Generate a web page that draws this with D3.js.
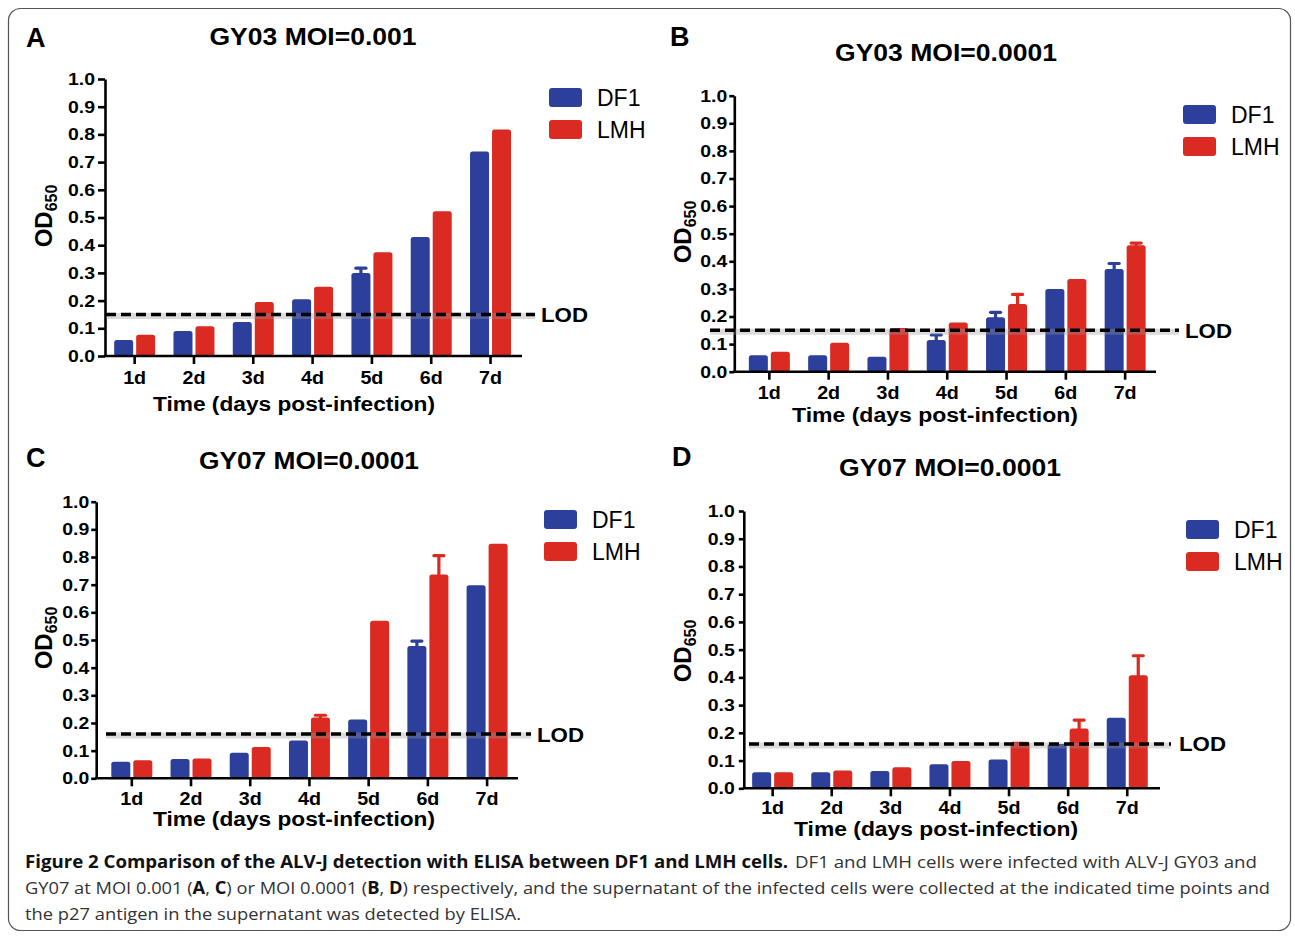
<!DOCTYPE html>
<html>
<head>
<meta charset="utf-8">
<script src="https://cdnjs.cloudflare.com/ajax/libs/d3/7.8.5/d3.min.js"></script>
<style>
  body { margin: 0; background: #fff; }
  svg text { font-family: "Liberation Sans", Arial, sans-serif; }
  svg text.cap { font-family: "Open Sans", "Noto Sans", sans-serif; }
</style>
</head>
<body>
<div id="my_datavis"></div>
<script>
var days = ["1d", "2d", "3d", "4d", "5d", "6d", "7d"];
var series = ["DF1", "LMH"];
var yTicks = [0, 0.1, 0.2, 0.3, 0.4, 0.5, 0.6, 0.7, 0.8, 0.9, 1.0];

var dfA = [0.058, 0.090, 0.123, 0.205, 0.300, 0.430, 0.738];
var dfErrA = [0, 0, 0, 0, 0.017, 0, 0];
var lmhA = [0.077, 0.107, 0.195, 0.250, 0.375, 0.523, 0.818];
var lmhErrA = [0, 0, 0, 0, 0, 0, 0];

var dfB = [0.060, 0.060, 0.054, 0.115, 0.197, 0.300, 0.372];
var dfErrB = [0, 0, 0, 0.018, 0.018, 0, 0.020];
var lmhB = [0.072, 0.105, 0.158, 0.178, 0.245, 0.336, 0.458];
var lmhErrB = [0, 0, 0, 0, 0.035, 0, 0.008];

var dfC = [0.060, 0.070, 0.092, 0.137, 0.213, 0.478, 0.698];
var dfErrC = [0, 0, 0, 0, 0, 0.018, 0];
var lmhC = [0.065, 0.072, 0.113, 0.220, 0.570, 0.737, 0.848];
var lmhErrC = [0, 0, 0, 0.008, 0, 0.068, 0];

var dfD = [0.058, 0.058, 0.062, 0.087, 0.104, 0.160, 0.254];
var dfErrD = [0, 0, 0, 0, 0, 0, 0];
var lmhD = [0.058, 0.064, 0.076, 0.098, 0.168, 0.216, 0.408];
var lmhErrD = [0, 0, 0, 0, 0, 0.030, 0.070];

var letters = ["A", "B", "C", "D"];
var titles = ["GY03 MOI=0.001", "GY03 MOI=0.0001", "GY07 MOI=0.0001", "GY07 MOI=0.0001"];
var lodValues = [0.15, 0.15, 0.16, 0.16];
var xTitle = "Time (days post-infection)";

var colorArr = ["#2b3f9b", "#da2a22"];
var color = d3.scaleOrdinal().domain(series).range(colorArr);

// where each panel sits in the figure
var layouts = [
  { ax: 105, y1: 79, y0: 356, bx0: 105, bx1: 520.2, xEnd: 522, yTick: 7, yPad: 3,
    lblOff: 22, ttlX: 294, ttlOff: 55, ttlW: 282, odX: 51.5, odY: 216,
    titleX: 313, titleY: 45, titleW: 207, letX: 26, letY: 47,
    legX: 549, legY: 88, lod0: 106, lod1: 535, lodX: 541 },
  { ax: 734.3, y1: 95.7, y0: 371.7, bx0: 739.7, bx1: 1154.8, xEnd: 1156, yTick: 5, yPad: 2,
    lblOff: 21, ttlX: 935, ttlOff: 50, ttlW: 286, odX: 691, odY: 232,
    titleX: 946, titleY: 61, titleW: 222, letX: 670, letY: 46,
    legX: 1183, legY: 105, lod0: 710, lod1: 1179, lodX: 1185 },
  { ax: 96.2, y1: 501.7, y0: 778.3, bx0: 102.2, bx1: 516.7, xEnd: 518, yTick: 5, yPad: 2,
    lblOff: 20, ttlX: 294, ttlOff: 48, ttlW: 282, odX: 51.5, odY: 638,
    titleX: 309, titleY: 469, titleW: 220, letX: 26, letY: 467,
    legX: 544, legY: 510, lod0: 106, lod1: 531, lodX: 537 },
  { ax: 743.8, y1: 511, y0: 788.3, bx0: 743.1, bx1: 1156.8, xEnd: 1160, yTick: 5, yPad: 4,
    lblOff: 19, ttlX: 936, ttlOff: 48, ttlW: 284, odX: 691, odY: 651,
    titleX: 950, titleY: 476, titleW: 222, letX: 672, letY: 466,
    legX: 1186, legY: 520, lod0: 749, lod1: 1171, lodX: 1179 }
];

var panelData = [
  [dfA, dfErrA, lmhA, lmhErrA],
  [dfB, dfErrB, lmhB, lmhErrB],
  [dfC, dfErrC, lmhC, lmhErrC],
  [dfD, dfErrD, lmhD, lmhErrD]
];

var svg = d3.select("#my_datavis")
  .append("svg")
  .attr("width", 1295)
  .attr("height", 936);

svg.append("rect")
  .attr("x", 8.5).attr("y", 8.5)
  .attr("width", 1282).attr("height", 922)
  .attr("rx", 12)
  .attr("fill", "none")
  .attr("stroke", "#555")
  .attr("stroke-width", 1.2);

layouts.forEach(function(L, p) {
  var g = svg.append("g");
  var vals = panelData[p];

  var y = d3.scaleLinear().domain([0, 1]).range([L.y0, L.y1]);
  var x0 = d3.scaleBand().domain(days).range([L.bx0, L.bx1]).padding(0);
  var x1 = d3.scaleBand().domain(series).range([-20.5, 20.5]).paddingInner(0.136);

  var bars = [];
  days.forEach(function(d, i) {
    series.forEach(function(s, k) {
      bars.push({ day: d, key: s, v: vals[k * 2][i], e: vals[k * 2 + 1][i] });
    });
  });

  g.selectAll("rect.bar")
    .data(bars)
    .enter()
    .append("rect")
    .attr("class", "bar")
    .attr("x", function(d) { return x0(d.day) + x0.bandwidth() / 2 + x1(d.key); })
    .attr("y", function(d) { return y(d.v); })
    .attr("width", x1.bandwidth())
    .attr("height", function(d) { return y(0) - y(d.v); })
    .attr("rx", 2.5)
    .attr("fill", function(d) { return color(d.key); });

  var errs = bars.filter(function(d) { return d.e > 0; });
  var cx = function(d) { return x0(d.day) + x0.bandwidth() / 2 + x1(d.key) + x1.bandwidth() / 2; };
  g.selectAll("line.err")
    .data(errs)
    .enter()
    .append("line")
    .attr("x1", cx).attr("x2", cx)
    .attr("y1", function(d) { return y(d.v) + 1; })
    .attr("y2", function(d) { return y(d.v + d.e); })
    .attr("stroke", function(d) { return color(d.key); })
    .attr("stroke-width", 3.2);
  g.selectAll("line.cap")
    .data(errs)
    .enter()
    .append("line")
    .attr("x1", function(d) { return cx(d) - 5; })
    .attr("x2", function(d) { return cx(d) + 5; })
    .attr("y1", function(d) { return y(d.v + d.e); })
    .attr("y2", function(d) { return y(d.v + d.e); })
    .attr("stroke", function(d) { return color(d.key); })
    .attr("stroke-width", 3.2)
    .attr("stroke-linecap", "round");

  // y axis
  var yAxis = g.append("g")
    .attr("transform", "translate(" + L.ax + ",0)")
    .call(d3.axisLeft(y).tickValues(yTicks).tickFormat(d3.format(".1f"))
      .tickSize(L.yTick).tickSizeOuter(0).tickPadding(L.yPad));
  yAxis.attr("font-family", null).attr("font-size", null);
  yAxis.selectAll("path, line").attr("stroke", "#000").attr("stroke-width", 2.6);
  yAxis.selectAll("text")
    .attr("font-size", 17).attr("font-weight", "bold").attr("fill", "#000")
    .attr("textLength", 27).attr("lengthAdjust", "spacingAndGlyphs");

  // x axis
  var xAxis = g.append("g")
    .attr("transform", "translate(0," + L.y0 + ")")
    .call(d3.axisBottom(x0).tickSize(8).tickSizeOuter(0));
  xAxis.attr("font-family", null).attr("font-size", null);
  xAxis.select(".domain").remove();
  xAxis.selectAll("line").attr("stroke", "#000").attr("stroke-width", 2.6);
  xAxis.selectAll("text")
    .attr("y", L.lblOff).attr("dy", "0.36em")
    .attr("font-size", 18).attr("font-weight", "bold").attr("fill", "#000")
    .attr("textLength", 23).attr("lengthAdjust", "spacingAndGlyphs");
  g.append("line")
    .attr("x1", L.ax - 1.3).attr("x2", L.xEnd)
    .attr("y1", L.y0).attr("y2", L.y0)
    .attr("stroke", "#000").attr("stroke-width", 2.6);

  g.append("text")
    .attr("x", L.ttlX)
    .attr("y", L.y0 + L.ttlOff)
    .attr("text-anchor", "middle")
    .attr("font-size", 19.5)
    .attr("font-weight", "bold")
    .attr("textLength", L.ttlW).attr("lengthAdjust", "spacingAndGlyphs")
    .text(xTitle);

  var od = g.append("text")
    .attr("transform", "translate(" + L.odX + "," + L.odY + ") rotate(-90)")
    .attr("text-anchor", "middle")
    .attr("font-size", 24)
    .attr("font-weight", "bold");
  od.append("tspan").text("OD");
  od.append("tspan").attr("font-size", 16).attr("dy", 5).text("650");

  // limit of detection
  g.append("line")
    .attr("x1", L.lod0).attr("x2", L.lod1)
    .attr("y1", y(lodValues[p]) + 1.5).attr("y2", y(lodValues[p]) + 1.5)
    .attr("stroke", "#999")
    .attr("stroke-opacity", 0.35)
    .attr("stroke-width", 6);
  g.append("line")
    .attr("x1", L.lod0).attr("x2", L.lod1)
    .attr("y1", y(lodValues[p])).attr("y2", y(lodValues[p]))
    .attr("stroke", "#000")
    .attr("stroke-width", 3.5)
    .attr("stroke-dasharray", "10,5");
  g.append("text")
    .attr("x", L.lodX)
    .attr("y", y(lodValues[p]))
    .attr("dy", "0.36em")
    .attr("font-size", 21)
    .attr("font-weight", "bold")
    .attr("textLength", 47).attr("lengthAdjust", "spacingAndGlyphs")
    .text("LOD");

  g.append("text")
    .attr("x", L.titleX).attr("y", L.titleY)
    .attr("text-anchor", "middle")
    .attr("font-size", 23)
    .attr("font-weight", "bold")
    .attr("textLength", L.titleW).attr("lengthAdjust", "spacingAndGlyphs")
    .text(titles[p]);

  g.append("text")
    .attr("x", L.letX).attr("y", L.letY)
    .attr("font-size", 27)
    .attr("font-weight", "bold")
    .text(letters[p]);

  var leg = g.selectAll("g.leg")
    .data(series)
    .enter()
    .append("g")
    .attr("transform", function(d, i) { return "translate(" + L.legX + "," + (L.legY + i * 32) + ")"; });
  leg.append("rect")
    .attr("width", 33).attr("height", 19).attr("rx", 3)
    .attr("fill", function(d) { return color(d); });
  leg.append("text")
    .attr("x", 48).attr("y", 9.5).attr("dy", "0.36em")
    .attr("font-size", 23)
    .text(function(d) { return d; });
});

// caption
var cap = svg.append("g");
cap.append("text")
  .attr("class", "cap")
  .attr("x", 25).attr("y", 868)
  .attr("font-size", 17).attr("font-weight", "bold").attr("fill", "#111")
  .attr("textLength", 763).attr("lengthAdjust", "spacingAndGlyphs")
  .text("Figure 2  Comparison of the ALV-J detection with ELISA between DF1 and LMH cells.");
cap.append("text")
  .attr("class", "cap")
  .attr("x", 795).attr("y", 868)
  .attr("font-size", 17).attr("fill", "#333")
  .attr("textLength", 462).attr("lengthAdjust", "spacingAndGlyphs")
  .text("DF1 and LMH cells were infected with ALV-J GY03 and");
var line2 = cap.append("text")
  .attr("class", "cap")
  .attr("x", 25).attr("y", 894)
  .attr("font-size", 17).attr("fill", "#333")
  .attr("textLength", 1245).attr("lengthAdjust", "spacingAndGlyphs");
[["GY07 at MOI 0.001 (", false], ["A", true], [", ", false], ["C", true],
 [") or MOI 0.0001 (", false], ["B", true], [", ", false], ["D", true],
 [") respectively, and the supernatant of the infected cells were collected at the indicated time points and", false]
].forEach(function(part) {
  line2.append("tspan")
    .attr("font-weight", part[1] ? "bold" : null)
    .attr("fill", part[1] ? "#111" : null)
    .text(part[0]);
});
cap.append("text")
  .attr("class", "cap")
  .attr("x", 25).attr("y", 920)
  .attr("font-size", 17).attr("fill", "#333")
  .attr("textLength", 496).attr("lengthAdjust", "spacingAndGlyphs")
  .text("the p27 antigen in the supernatant was detected by ELISA.");
</script>
</body>
</html>
